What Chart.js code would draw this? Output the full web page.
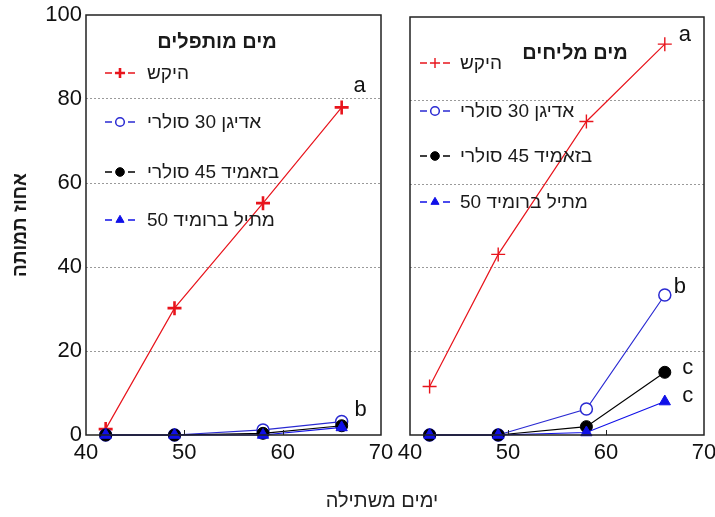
<!DOCTYPE html>
<html lang="he">
<head>
<meta charset="utf-8">
<script src="https://cdn.jsdelivr.net/npm/chart.js@4.4.1/dist/chart.umd.min.js"></script>
<style>
  html, body { margin: 0; padding: 0; background: #fff; }
  #wrap { position: relative; width: 715px; height: 517px; overflow: hidden;
          font-family: "Liberation Sans", Arial, "DejaVu Sans", sans-serif; }
  #wrap canvas { position: absolute; top: 0; }
  #fresh { left: 0; }
  #saline { left: 395px; }
  #xtitle { position: absolute; left: 282px; width: 200px; top: 488px; line-height: 24px;
            font-size: 20px; color: #222; text-align: center; direction: rtl; }
</style>
</head>
<body>
<div id="wrap">
  <canvas id="fresh" width="395" height="517"></canvas>
  <canvas id="saline" width="320" height="517"></canvas>
  <div id="xtitle">ימים משתילה</div>
</div>
<script>
// Days after planting (x values shared by every series)
const days = [42, 49, 58, 66];
const xTicks = [40, 50, 60, 70];
const yTicks = [0, 20, 40, 60, 80, 100];

// Treatment names
const seriesNames = ['היקש', 'אדיגן 30 סולרי', 'בזאמיד 45 סולרי', 'מתיל ברומיד 50'];

// Mortality (%) – desalinated water
const freshControl = [1.4, 30.2, 55.2, 78];
const freshAdigan = [0, 0, 1.2, 3.2];
const freshBasamid = [0, 0, 0.4, 2.2];
const freshMethyl = [0, 0, 0, 1.8];
const freshLetters = ['a', 'b', '', ''];

// Mortality (%) – saline water
const salineControl = [11.6, 43.2, 75, 93.5];
const salineAdigan = [0, 0, 6.2, 33.5];
const salineBasamid = [0, 0, 2, 15];
const salineMethyl = [0, 0, 0.6, 8];
const salineLetters = ['a', 'b', 'c', 'c'];

const FONT = '"Liberation Sans", Arial, "DejaVu Sans", sans-serif';
Chart.defaults.font.family = FONT;
Chart.defaults.color = '#111';

const RED = '#e8141c';
const BLUE = '#2a2ad2';
const BLACK = '#000';
const TRI = '#1010e8';

function styles(thickCross) {
  return [
    { color: RED, pointStyle: 'cross', radius: 7, pw: thickCross ? 2.6 : 1.4, fill: RED, order: 3 },
    { color: BLUE, pointStyle: 'circle', radius: 6, pw: 1.5, fill: '#fff', order: 2 },
    { color: BLACK, pointStyle: 'circle', radius: 6, pw: 1, fill: BLACK, order: 1 },
    { color: TRI, pointStyle: 'triangle', radius: 6.5, pw: 1, fill: TRI, order: 0 }
  ];
}

function makeDatasets(values, st) {
  return values.map((vals, i) => ({
    label: seriesNames[i],
    data: days.map((d, k) => ({ x: d, y: vals[k] })),
    borderColor: st[i].color,
    backgroundColor: st[i].fill,
    borderWidth: 1.2,
    pointStyle: st[i].pointStyle,
    pointRadius: st[i].radius,
    pointBorderWidth: st[i].pw,
    pointBorderColor: st[i].color,
    pointBackgroundColor: st[i].fill,
    order: st[i].order,
    tension: 0,
    clip: false
  }));
}

// Frame, inward x ticks, in-plot legend and significance letters
const panelDecor = {
  id: 'panelDecor',
  afterDatasetsDraw(chart, args, opts) {
    const ctx = chart.ctx;
    const { left, right, top, bottom } = chart.chartArea;
    const xs = chart.scales.x, ys = chart.scales.y;
    ctx.save();
    ctx.strokeStyle = '#222';
    ctx.lineWidth = 1.5;
    ctx.strokeRect(left, top, right - left, bottom - top);

    ctx.lineWidth = 1;
    xTicks.slice(1, -1).forEach(v => {
      const px = Math.round(xs.getPixelForValue(v)) + 0.5;
      ctx.beginPath(); ctx.moveTo(px, bottom); ctx.lineTo(px, bottom - 5); ctx.stroke();
    });

    // legend title
    ctx.fillStyle = '#1a1a1a';
    ctx.font = 'bold 20px ' + FONT;
    ctx.textAlign = 'center';
    ctx.textBaseline = 'middle';
    ctx.fillText(opts.title, opts.titleX, opts.titleY);

    // legend entries
    ctx.font = '19px ' + FONT;
    ctx.textAlign = 'left';
    chart.data.datasets.forEach((ds, i) => {
      const cy = opts.rowsY[i];
      const cx = opts.markX;
      ctx.strokeStyle = ds.borderColor;
      ctx.lineWidth = 1.3;
      ctx.beginPath();
      ctx.moveTo(cx - 15, cy); ctx.lineTo(cx - 8, cy);
      ctx.moveTo(cx + 8, cy); ctx.lineTo(cx + 15, cy);
      ctx.stroke();
      ctx.fillStyle = ds.pointBackgroundColor;
      ctx.strokeStyle = ds.pointBorderColor;
      ctx.lineWidth = ds.pointBorderWidth;
      Chart.helpers.drawPoint(ctx, {
        pointStyle: ds.pointStyle, rotation: 0,
        radius: ds.pointRadius * 0.72, borderWidth: ds.pointBorderWidth
      }, cx, cy);
      ctx.fillStyle = '#1a1a1a';
      ctx.fillText(ds.label, opts.textX, cy + 1);
    });

    // significance letters beside the last point of each series
    ctx.font = '22px ' + FONT;
    ctx.textAlign = 'center';
    ctx.fillStyle = '#111';
    opts.letters.forEach((letter, i) => {
      if (!letter) return;
      const ds = chart.data.datasets[i];
      const last = ds.data[ds.data.length - 1];
      const off = opts.letterOffsets[i];
      ctx.fillText(letter, xs.getPixelForValue(last.x) + off[0], ys.getPixelForValue(last.y) + off[1]);
    });
    ctx.restore();
  }
};

function makeChart(canvasId, datasets, cfg) {
  return new Chart(document.getElementById(canvasId), {
    type: 'line',
    data: { datasets },
    plugins: [panelDecor],
    options: {
      responsive: false,
      animation: false,
      devicePixelRatio: 1,
      layout: { padding: cfg.padding },
      plugins: {
        legend: { display: false },
        tooltip: { enabled: false },
        panelDecor: cfg.decor
      },
      scales: {
        x: {
          type: 'linear', min: 40, max: 70,
          afterBuildTicks: s => { s.ticks = xTicks.map(v => ({ value: v })); },
          afterFit: s => { s.height = 40; s.paddingLeft = 0; s.paddingRight = 0; },
          ticks: { font: { size: 22 }, color: '#111', padding: 5, maxRotation: 0 },
          grid: { display: false, drawTicks: false },
          border: { display: false }
        },
        y: {
          type: 'linear', min: 0, max: 100,
          afterBuildTicks: s => { s.ticks = yTicks.map(v => ({ value: v })); },
          afterFit: s => { s.width = cfg.yWidth; s.paddingTop = 0; s.paddingBottom = 0; },
          ticks: { display: cfg.showY, font: { size: 22 }, color: '#111', padding: 4 },
          grid: {
            drawTicks: false,
            color: c => (c.tick && c.tick.value > 0 && c.tick.value < 100) ? '#9a9a9a' : 'rgba(0,0,0,0)',
            lineWidth: 1
          },
          border: { display: false, dash: [2, 2] },
          title: {
            display: cfg.showY, text: 'אחוז תמותה',
            font: { size: 19, weight: 'bold' }, color: '#1a1a1a',
            padding: { top: 9, bottom: 0 }
          }
        }
      }
    }
  });
}

makeChart('fresh',
  makeDatasets([freshControl, freshAdigan, freshBasamid, freshMethyl], styles(true)),
  {
    padding: { left: 0, right: 14, top: 15, bottom: 42 },
    yWidth: 86, showY: true,
    decor: {
      title: 'מים מותפלים', titleX: 217, titleY: 42,
      markX: 120, textX: 147, rowsY: [73, 122, 172, 220],
      letters: freshLetters,
      letterOffsets: [[18, -21], [19, -12], [0, 0], [0, 0]]
    }
  });

makeChart('saline',
  makeDatasets([salineControl, salineAdigan, salineBasamid, salineMethyl], styles(false)),
  {
    padding: { left: 0, right: 11, top: 17, bottom: 42 },
    yWidth: 15, showY: false,
    decor: {
      title: 'מים מליחים', titleX: 180, titleY: 53,
      markX: 40, textX: 65, rowsY: [63, 111, 156, 202],
      letters: salineLetters,
      letterOffsets: [[20, -9], [15, -8], [23, -4], [23, -6]]
    }
  });
</script>
</body>
</html>
